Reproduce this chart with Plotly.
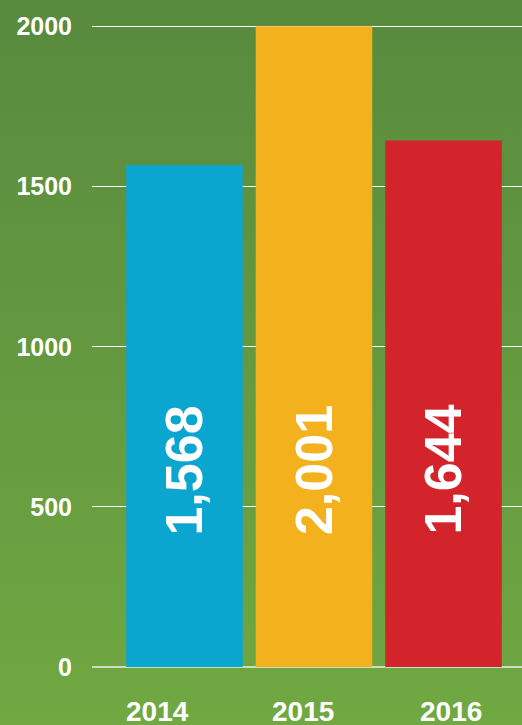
import base64
import plotly.graph_objects as go

# Data
years = ["2014", "2015", "2016"]
values = [1568, 2001, 1644]
bar_colors = ["#0ba6cf", "#f4b11e", "#d3232b"]
y_ticks = [0, 500, 1000, 1500, 2000]

# Vertical green gradient used as page background
grad_svg = (
    '<svg xmlns="http://www.w3.org/2000/svg" width="10" height="100" preserveAspectRatio="none">'
    '<defs><linearGradient id="g" x1="0" y1="0" x2="0" y2="1">'
    '<stop offset="0" stop-color="#588a3e"/>'
    '<stop offset="1" stop-color="#70a842"/>'
    '</linearGradient></defs>'
    '<rect width="10" height="100" fill="url(#g)"/></svg>'
)
grad_uri = "data:image/svg+xml;base64," + base64.b64encode(grad_svg.encode()).decode()

W, H = 522, 725
ML, MR, MT, MB = 92, 0, 25, 58

fig = go.Figure()
fig.add_trace(go.Bar(
    x=years,
    y=values,
    marker=dict(color=bar_colors, line=dict(width=0)),
    width=0.9,
    hoverinfo="skip",
))

font_family = "Liberation Sans, Arial, sans-serif"

annotations = []
# Values written vertically inside the bars
for i, v in enumerate(values):
    annotations.append(dict(
        x=i, y=615, xref="x", yref="y",
        text=f"{v:,}", textangle=-90, showarrow=False,
        font=dict(family=font_family, size=52, color="white", weight="bold"),
        xanchor="center", yanchor="middle",
    ))

# Year labels below the axis
label_shift = [-27, -10.5, 7.5]
for i, (yr, dx) in enumerate(zip(years, label_shift)):
    annotations.append(dict(
        x=i, y=0, xref="x", yref="y",
        text=yr, showarrow=False, xshift=dx, yshift=-44,
        font=dict(family=font_family, size=28, color="white", weight="bold"),
        xanchor="center", yanchor="middle", borderpad=0,
    ))

fig.update_layout(
    width=W, height=H,
    margin=dict(l=ML, r=MR, t=MT, b=MB, pad=0),
    paper_bgcolor="#62973f",
    plot_bgcolor="rgba(0,0,0,0)",
    showlegend=False,
    images=[dict(
        source=grad_uri, xref="paper", yref="paper",
        x=-ML / (W - ML - MR), y=1 + MT / (H - MT - MB),
        sizex=W / (W - ML - MR), sizey=H / (H - MT - MB),
        xanchor="left", yanchor="top", sizing="stretch", layer="below",
    )],
    xaxis=dict(
        type="category",
        range=[-0.714, 2.606],
        showticklabels=False, showgrid=False, zeroline=False,
        showline=False, ticks="", fixedrange=True,
    ),
    yaxis=dict(
        range=[0, 2005],
        tickvals=y_ticks, ticktext=[str(t) for t in y_ticks],
        showgrid=True, gridcolor="white", gridwidth=1,
        zeroline=True, zerolinecolor="#cfdcc4", zerolinewidth=2,
        showline=False, ticks="",
        ticklabelstandoff=19,
        tickfont=dict(family=font_family, size=25, color="white", weight="bold"),
        fixedrange=True,
    ),
    annotations=annotations,
)

fig.write_html("out.html", config={"displayModeBar": False})
